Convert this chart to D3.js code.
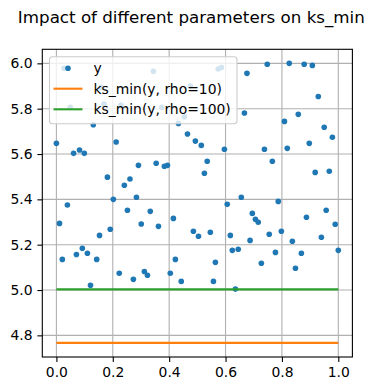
<!DOCTYPE html>
<html>
<head>
<meta charset="utf-8">
<script src="https://cdn.jsdelivr.net/npm/d3@7"></script>
<style>
  body { margin: 0; background: #fff; }
  text { font-family: "DejaVu Sans", sans-serif; }
</style>
</head>
<body>
<div id="chart"></div>
<script>
// scatter points
const xs = [0.0, 0.011, 0.021, 0.027, 0.039, 0.049, 0.061, 0.071, 0.082, 0.092,
            0.099, 0.110, 0.121, 0.131, 0.143, 0.153, 0.159, 0.169, 0.181, 0.191,
            0.202, 0.212, 0.223, 0.229, 0.241, 0.252, 0.261, 0.273, 0.284, 0.291,
            0.301, 0.312, 0.323, 0.333, 0.344, 0.354, 0.362, 0.374, 0.383, 0.394,
            0.404, 0.415, 0.422, 0.433, 0.443, 0.454, 0.465, 0.475, 0.486, 0.493,
            0.504, 0.514, 0.525, 0.535, 0.546, 0.557, 0.564, 0.574, 0.585, 0.596,
            0.606, 0.617, 0.624, 0.635, 0.645, 0.656, 0.667, 0.676, 0.687, 0.695,
            0.706, 0.716, 0.727, 0.738, 0.748, 0.755, 0.766, 0.777, 0.787, 0.798,
            0.809, 0.819, 0.826, 0.837, 0.848, 0.858, 0.869, 0.879, 0.887, 0.897,
            0.908, 0.918, 0.929, 0.940, 0.950, 0.957, 0.968, 0.979, 0.989, 1.0];
const ys = [5.647, 5.294, 5.135, 5.978, 5.375, 5.806, 5.603, 5.157, 5.618, 5.184,
            5.603, 5.162, 5.021, 5.729, 5.135, 5.241, 5.894, 5.820, 5.498, 5.268,
            5.400, 5.653, 5.074, 5.816, 5.462, 5.352, 5.490, 5.047, 5.409, 5.550,
            5.291, 5.082, 5.065, 5.347, 5.965, 5.559, 5.281, 5.806, 5.546, 5.550,
            5.074, 5.316, 5.135, 5.735, 5.038, 5.764, 5.688, 5.900, 5.259, 5.657,
            5.237, 5.638, 5.515, 5.568, 5.255, 5.038, 5.122, 5.975, 5.982, 5.621,
            5.378, 5.241, 5.175, 5.004, 5.180, 5.409, 5.781, 5.956, 5.219, 5.338,
            5.312, 5.299, 5.118, 5.621, 5.996, 5.246, 5.568, 5.166, 5.391, 5.259,
            5.744, 5.625, 6.000, 5.215, 5.096, 5.775, 5.162, 5.996, 5.321, 5.647,
            5.991, 5.519, 5.854, 5.233, 5.718, 5.352, 5.524, 5.674, 5.290, 5.175];

// horizontal result lines
const lineX = [0, 1];
const ksRho10 = [4.767, 4.767];
const ksRho100 = [5.003, 5.003];

const xTicks = [0.0, 0.2, 0.4, 0.6, 0.8, 1.0];
const yTicks = [4.8, 5.0, 5.2, 5.4, 5.6, 5.8, 6.0];

const legendLabels = ["y", "ks_min(y, rho=10)", "ks_min(y, rho=100)"];

const width = 375, height = 391;
const mLeft = 42.3, mRight = 352.4, mTop = 49.3, mBottom = 357;

const blue = "#1f77b4", orange = "#ff7f0e", green = "#2ca02c";

let x_scale = d3.scaleLinear().domain([-0.05, 1.05]).range([mLeft, mRight]);
let y_scale = d3.scaleLinear().domain([4.7045, 6.062]).range([mBottom, mTop]);

const svg = d3.select("#chart")
    .append("svg")
        .attr("width", width)
        .attr("height", height)
        .style("background", "#fff");

// grid
svg.append("g")
    .selectAll("line")
    .data(xTicks)
    .enter()
    .append("line")
        .attr("x1", d => x_scale(d)).attr("x2", d => x_scale(d))
        .attr("y1", mTop).attr("y2", mBottom)
        .attr("stroke", "#b0b0b0").attr("stroke-width", 1.1);

svg.append("g")
    .selectAll("line")
    .data(yTicks)
    .enter()
    .append("line")
        .attr("x1", mLeft).attr("x2", mRight)
        .attr("y1", d => y_scale(d)).attr("y2", d => y_scale(d))
        .attr("stroke", "#b0b0b0").attr("stroke-width", 1.1);

// axes
let x_axis = d3.axisBottom(x_scale).tickValues(xTicks).tickFormat(d3.format(".1f"))
    .tickSize(4.9).tickPadding(4.9);
let y_axis = d3.axisLeft(y_scale).tickValues(yTicks).tickFormat(d3.format(".1f"))
    .tickSize(4.9).tickPadding(4.9);

svg.append("g")
    .attr("class", "x_axis")
    .attr("transform", `translate(0, ${mBottom})`)
    .call(x_axis);

svg.append("g")
    .attr("class", "y_axis")
    .attr("transform", `translate(${mLeft}, 0)`)
    .call(y_axis);

svg.selectAll(".x_axis path, .y_axis path").remove();
svg.selectAll(".tick line").attr("stroke", "#000").attr("stroke-width", 1.1);
svg.selectAll(".tick text")
    .style("font-size", "13.9px")
    .style("font-family", "DejaVu Sans")
    .attr("fill", "#000");

// points
svg.append("g")
    .selectAll("circle")
    .data(xs.map((d, i) => [d, ys[i]]))
    .enter()
    .append("circle")
        .attr("cx", d => x_scale(d[0]))
        .attr("cy", d => y_scale(d[1]))
        .attr("r", 2.8)
        .attr("fill", blue);

// lines
const line = d3.line().x(d => x_scale(d[0])).y(d => y_scale(d[1]));
svg.append("path")
    .datum(lineX.map((d, i) => [d, ksRho10[i]]))
    .attr("d", line)
    .attr("fill", "none").attr("stroke", orange).attr("stroke-width", 2.1);
svg.append("path")
    .datum(lineX.map((d, i) => [d, ksRho100[i]]))
    .attr("d", line)
    .attr("fill", "none").attr("stroke", green).attr("stroke-width", 2.1);

// frame
svg.append("rect")
    .attr("x", mLeft).attr("y", mTop)
    .attr("width", mRight - mLeft).attr("height", mBottom - mTop)
    .attr("fill", "none").attr("stroke", "#000").attr("stroke-width", 1.1);

// title
svg.append("text")
    .attr("x", (mLeft + mRight) / 2 - 6)
    .attr("y", 23)
    .attr("text-anchor", "middle")
    .style("font-size", "16.7px")
    .text("Impact of different parameters on ks_min");

// legend
const legend = svg.append("g").attr("transform", "translate(49.5, 56.7)");
legend.append("rect")
    .attr("width", 187.5).attr("height", 67)
    .attr("rx", 3)
    .attr("fill", "#fff").attr("fill-opacity", 0.8)
    .attr("stroke", "#cccccc").attr("stroke-width", 1.1);

const rowY = [11.5, 32, 52.6];
legend.append("circle")
    .attr("cx", 18.5).attr("cy", rowY[0]).attr("r", 2.8).attr("fill", blue);
[orange, green].forEach((c, i) => {
    legend.append("line")
        .attr("x1", 4).attr("x2", 33)
        .attr("y1", rowY[i + 1]).attr("y2", rowY[i + 1])
        .attr("stroke", c).attr("stroke-width", 2.1);
});
legend.selectAll(".label")
    .data(legendLabels)
    .enter()
    .append("text")
        .attr("class", "label")
        .attr("x", 44)
        .attr("y", (d, i) => rowY[i] + 5)
        .style("font-size", "13.9px")
        .text(d => d);
</script>
</body>
</html>
